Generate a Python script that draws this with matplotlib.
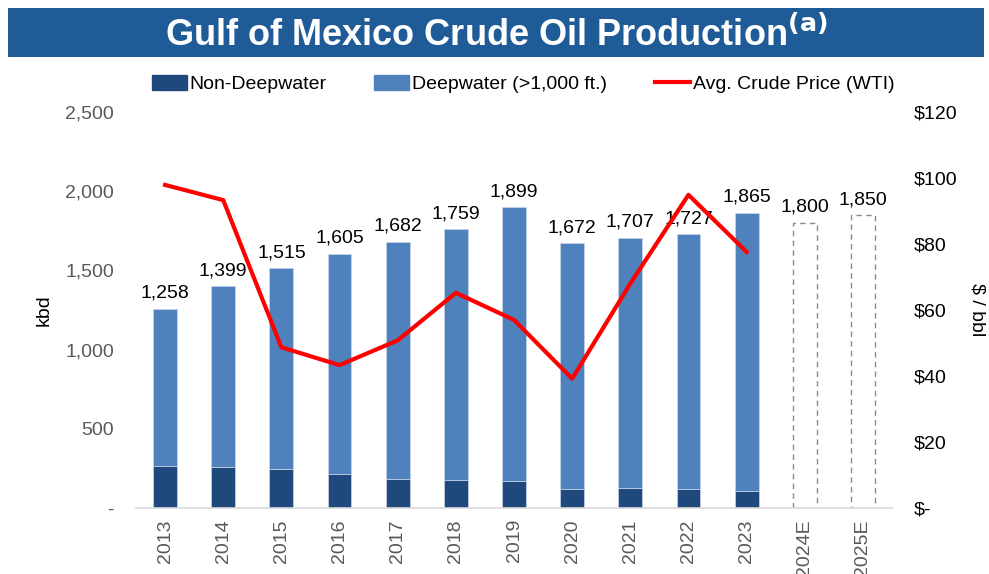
import matplotlib.pyplot as plt
import numpy as np
from matplotlib.patches import Rectangle
from matplotlib.lines import Line2D
from matplotlib.ticker import FuncFormatter

plt.rcParams['font.family'] = ['Liberation Sans', 'DejaVu Sans']

years = ["2013", "2014", "2015", "2016", "2017", "2018", "2019",
         "2020", "2021", "2022", "2023", "2024E", "2025E"]
totals = [1258, 1399, 1515, 1605, 1682, 1759, 1899, 1672, 1707, 1727, 1865, 1800, 1850]
non_deep = [267, 259, 246, 217, 185, 179, 172, 122, 124, 122, 109]
wti = [97.9, 93.3, 48.7, 43.3, 50.8, 65.2, 57.0, 39.2, 68.0, 94.9, 77.6]

n_actual = len(non_deep)
deep = [t - nd for t, nd in zip(totals[:n_actual], non_deep)]

DARK = "#1F497D"
LIGHT = "#4F81BD"
GRAY = "#595959"
FS = 14

fig = plt.figure(figsize=(9.89, 5.74), dpi=100)
fig.patch.set_facecolor("white")

# title banner
banner = fig.add_axes([8 / 989, 1 - 57 / 574, 976 / 989, 49 / 574])
banner.add_patch(Rectangle((0, 0), 1, 1, color="#1F5B96", transform=banner.transAxes))
banner.axis("off")
banner.text(0.5, 0.45, r"Gulf of Mexico Crude Oil Production$^{\mathbf{(a)}}$",
            ha="center", va="center", color="white", fontsize=26, fontweight="bold")

ax = fig.add_axes([136 / 989, 1 - 508 / 574, 756 / 989, 396 / 574])
x = np.arange(len(years))
w = 0.41

ax.bar(x[:n_actual], non_deep, w, color=DARK, edgecolor="#c9d6e8", linewidth=0.5, zorder=2)
ax.bar(x[:n_actual], deep, w, bottom=non_deep, color=LIGHT, edgecolor="#c9d6e8",
       linewidth=0.5, zorder=2)
ax.bar(x[n_actual:], totals[n_actual:], w, facecolor="none", edgecolor="#8c8c8c",
       linestyle=(0, (4, 3)), linewidth=1.0, zorder=2)

for xi, t in zip(x, totals):
    ax.annotate(f"{t:,}", (xi, t), xytext=(0, 5), textcoords="offset points",
                ha="center", va="bottom", fontsize=FS, color="black", zorder=5)

ax.set_xlim(-0.5, len(years) - 0.5)
ax.set_ylim(0, 2500)
ax.set_yticks(np.arange(0, 2501, 500))
ax.yaxis.set_major_formatter(FuncFormatter(lambda v, p: "-" if v == 0 else f"{int(v):,}"))
ax.set_xticks(x)
ax.set_xticklabels(years, rotation=90)
ax.tick_params(axis="both", length=0, labelsize=FS, labelcolor=GRAY)
ax.tick_params(axis="y", pad=16)
ax.tick_params(axis="x", pad=8)
for s in ["top", "right", "left"]:
    ax.spines[s].set_visible(False)
ax.spines["bottom"].set_color("#d9d9d9")
ax.spines["bottom"].set_linewidth(1.2)
ax.set_ylabel("kbd", fontsize=FS)
ax.yaxis.set_label_coords(-0.11, 0.5)

ax2 = ax.twinx()
ax2.plot(x[:n_actual], wti, color="#FF0000", linewidth=3, zorder=4)
ax2.set_ylim(0, 120)
ax2.set_yticks(np.arange(0, 121, 20))
ax2.yaxis.set_major_formatter(FuncFormatter(lambda v, p: "$-" if v == 0 else f"${int(v)}"))
ax2.tick_params(axis="y", length=0, labelsize=FS, labelcolor="black", pad=16)
for s in ["top", "right", "left", "bottom"]:
    ax2.spines[s].set_visible(False)
ax2.set_ylabel("$ / bbl", fontsize=FS, rotation=270, va="center")
ax2.yaxis.set_label_coords(1.113, 0.5)

handles = [Rectangle((0, 0), 1, 1, color=DARK),
           Rectangle((0, 0), 1, 1, color=LIGHT),
           Line2D([], [], color="#FF0000", linewidth=3)]
fig.legend(handles, ["Non-Deepwater", "Deepwater (>1,000 ft.)", "Avg. Crude Price (WTI)"],
           loc="center", bbox_to_anchor=(0.529, 1 - 84 / 574), ncol=3, frameon=False,
           fontsize=FS, handlelength=1.8, handleheight=0.8, handletextpad=0.15,
           columnspacing=2.45)

fig.savefig("out.png", dpi=100)
